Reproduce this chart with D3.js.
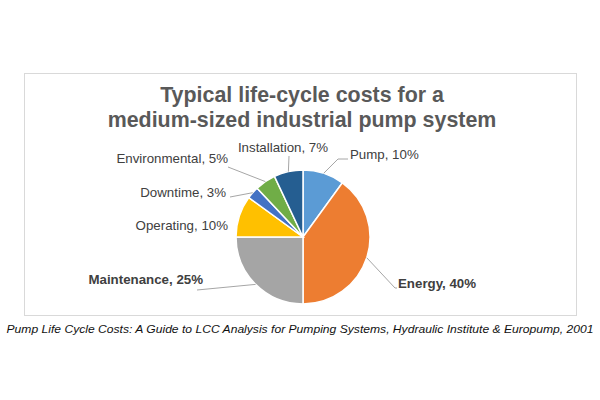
<!DOCTYPE html>
<html><head><meta charset="utf-8">
<script src="https://cdn.jsdelivr.net/npm/d3@7"></script>
<style>body{margin:0;background:#fff}svg{display:block}</style>
</head><body>
<script>
const categories = ["Pump","Energy","Maintenance","Operating","Downtime","Environmental","Installation"];
const values = [10,40,25,10,3,5,7];
const colors = ["#5B9BD5","#ED7D31","#A5A5A5","#FFC000","#4472C4","#70AD47","#255E91"];
const boldLabels = ["Energy","Maintenance"];
const titleLines = ["Typical life-cycle costs for a","medium-sized industrial pump system"];
const sourceText = "Pump Life Cycle Costs: A Guide to LCC Analysis for Pumping Systems, Hydraulic Institute & Europump, 2001";

const labelLayout = {
  "Pump":          {x:350, y:159, anchor:"start", line:[[338,159],[348,159]]},
  "Energy":        {x:398, y:288, anchor:"start", line:[[395,288],[397,288]]},
  "Maintenance":   {x:203, y:284, anchor:"end",   line:[[197,290]]},
  "Operating":     {x:228, y:230, anchor:"end",   line:null},
  "Downtime":      {x:226, y:197, anchor:"end",   line:[[230,197]]},
  "Environmental": {x:228, y:163, anchor:"end",   line:[[228,167]]},
  "Installation":  {x:283, y:152, anchor:"middle",line:[[289,156]]}
};

const W=600,H=400, cx=303, cy=237, R=67;
const svg=d3.select("body").append("svg").attr("width",W).attr("height",H);
svg.append("rect").attr("width",W).attr("height",H).attr("fill","#fff");
svg.append("rect").attr("x",24.5).attr("y",73.5).attr("width",552).attr("height",242)
  .attr("fill","#fff").attr("stroke","#d9d9d9").attr("stroke-width",1);

const title=svg.append("text").attr("text-anchor","middle").attr("fill","#595959")
  .attr("font-family","Liberation Sans, Arial, sans-serif").attr("font-weight","bold").attr("font-size",21.4);
titleLines.forEach((t,i)=>title.append("tspan").attr("x",302).attr("y",102+i*25).text(t));

const data=categories.map((c,i)=>({name:c,value:values[i],color:colors[i]}));
const pie=d3.pie().value(d=>d.value).sort(null);
const arcs=pie(data);
const arc=d3.arc().innerRadius(0).outerRadius(R);
const g=svg.append("g").attr("transform",`translate(${cx},${cy})`);
g.selectAll("path").data(arcs).join("path").attr("d",arc)
  .attr("fill",d=>d.data.color).attr("stroke","#fff").attr("stroke-width",1.5);

const edge=d3.arc().innerRadius(R).outerRadius(R);
arcs.forEach(a=>{
  const L=labelLayout[a.data.name];
  if(!L.line) return;
  const [ex,ey]=edge.centroid(a);
  const pts=[[cx+ex,cy+ey]].concat(L.line);
  svg.append("path").attr("d",d3.line()(pts)).attr("fill","none")
    .attr("stroke","#a6a6a6").attr("stroke-width",1);
});

arcs.forEach(a=>{
  const L=labelLayout[a.data.name];
  svg.append("text").attr("x",L.x).attr("y",L.y).attr("text-anchor",L.anchor)
    .attr("font-family","Liberation Sans, Arial, sans-serif").attr("font-size",13.3)
    .attr("font-weight",boldLabels.includes(a.data.name)?"bold":"normal")
    .attr("fill","#404040").text(`${a.data.name}, ${a.data.value}%`);
});

svg.append("text").attr("x",300).attr("y",333).attr("text-anchor","middle")
  .attr("font-family","Liberation Sans, Arial, sans-serif").attr("font-style","italic")
  .attr("font-size",11.5).attr("fill","#111").attr("textLength",587).attr("lengthAdjust","spacingAndGlyphs")
  .text(sourceText);
</script>
</body></html>
